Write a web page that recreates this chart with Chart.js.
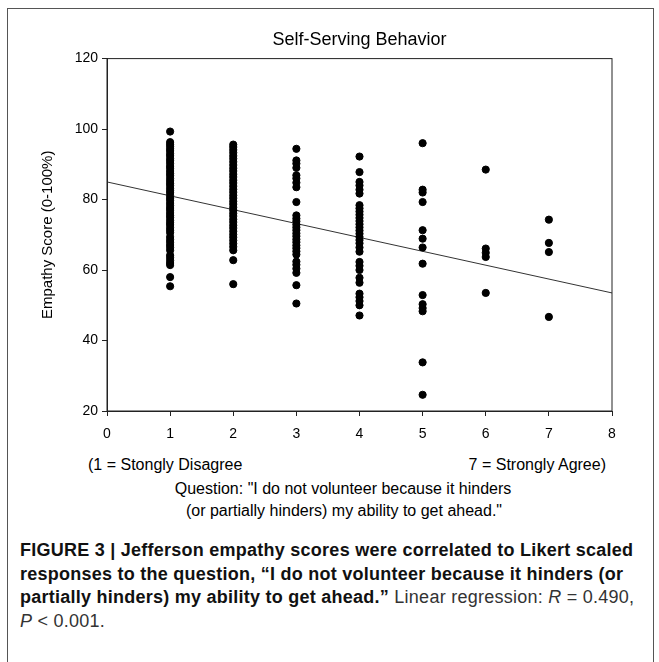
<!DOCTYPE html>
<html>
<head>
<meta charset="utf-8">
<script src="https://cdn.jsdelivr.net/npm/chart.js@4/dist/chart.umd.min.js"></script>
<style>
body { margin: 0; background: #fff; font-family: "Liberation Sans", Arial, sans-serif; }
#page { position: relative; width: 659px; height: 662px; overflow: hidden; }
#frame { position: absolute; left: 7px; top: 8px; width: 645px; height: 700px; border: 1px solid #555; }
#chart { position: absolute; left: 0; top: 0; }
.lbl { position: absolute; font-size: 16px; color: #000; white-space: nowrap; }
#caption { position: absolute; left: 20px; top: 539px; width: 640px; font-size: 18px; line-height: 23.5px;
    letter-spacing: 0.25px; color: #333; white-space: nowrap; }
#caption b { color: #111; }
</style>
</head>
<body>
<div id="page">
  <div id="frame"></div>
  <canvas id="chart" width="659" height="451"></canvas>
  <div class="lbl" style="left:88px; top:456px;">(1 = Stongly Disagree</div>
  <div class="lbl" style="left:300px; width:306px; text-align:right; top:456px;">7 = Strongly Agree)</div>
  <div class="lbl" style="left:0; width:686px; text-align:center; top:480px;">Question: "I do not volunteer because it hinders</div>
  <div class="lbl" style="left:0; width:688px; text-align:center; top:502px;">(or partially hinders) my ability to get ahead."</div>
  <div id="caption"><b>FIGURE 3 | Jefferson empathy scores were correlated to Likert scaled<br>responses to the question, “I do not volunteer because it hinders (or<br>partially hinders) my ability to get ahead.”</b> Linear regression: <i>R</i> = 0.490,<br><i>P</i> &lt; 0.001.</div>
</div>
<script>
// Likert response (x) and empathy scores
var likert = [1, 2, 3, 4, 5, 6, 7];
var scores1 = [99.3, 96.3, 95.7, 95.1, 94.4, 93.8, 93.0, 92.4, 91.6, 91.0, 90.3, 89.5, 88.9, 88.1, 87.4, 86.8,
    86.0, 85.3, 84.6, 84.0, 83.2, 82.5, 81.9, 81.1, 80.4, 79.8, 79.0, 78.3, 77.6, 77.0, 76.2, 75.5, 74.9,
    74.1, 73.4, 72.8, 72.0, 71.3, 70.6, 69.4, 68.6, 67.9, 67.1, 66.4, 65.6, 64.2, 63.5, 62.7, 62.0, 61.4,
    58.0, 55.4];
var scores2 = [95.6, 94.9, 94.1, 93.3, 92.4, 91.6, 90.7, 89.8, 88.9, 88.1, 87.2, 86.4, 85.5, 84.7, 83.8,
    82.9, 82.1, 81.2, 80.4, 79.5, 78.7, 77.8, 77.0, 76.1, 75.3, 74.4, 73.6, 72.7, 71.9, 71.0, 70.1, 69.3,
    68.4, 67.5, 66.6, 65.6, 62.8, 56.0];
var scores3 = [94.4, 91.1, 90.2, 89.0, 86.9, 86.0, 84.8, 83.5, 79.3, 75.5, 74.6, 73.8, 72.9, 72.1, 71.3,
    70.4, 69.6, 68.7, 67.9, 67.0, 66.2, 65.3, 64.4, 62.4, 61.5, 60.4, 59.2, 55.7, 50.5];
var scores4 = [92.2, 87.8, 85.0, 84.0, 82.8, 81.7, 78.4, 77.5, 76.6, 75.7, 74.8, 73.9, 73.0, 72.1, 71.2,
    70.3, 69.4, 68.5, 67.6, 66.4, 65.2, 62.3, 61.2, 60.0, 57.8, 56.4, 53.3, 52.3, 51.2, 50.0, 47.1];
var scores5 = [96.0, 82.8, 82.0, 79.3, 71.3, 68.9, 66.4, 61.8, 52.9, 50.3, 49.2, 48.3, 33.8, 24.6];
var scores6 = [88.5, 66.1, 64.9, 63.7, 53.5];
var scores7 = [74.3, 67.7, 65.1, 46.7];
var regX = [0, 8];
var regY = [85.0, 53.5];

var columns = [scores1, scores2, scores3, scores4, scores5, scores6, scores7];
var points = [];
for (var i = 0; i < likert.length; i++) {
    for (var j = 0; j < columns[i].length; j++) {
        points.push({x: likert[i], y: columns[i][j]});
    }
}
var regLine = [];
for (var k = 0; k < regX.length; k++) {
    regLine.push({x: regX[k], y: regY[k]});
}

var boxPlugin = {
    id: "box",
    afterDraw: function(chart) {
        var a = chart.chartArea, ctx = chart.ctx;
        ctx.save();
        ctx.strokeStyle = "#222";
        ctx.lineWidth = 1;
        ctx.strokeRect(a.left, a.top, a.right - a.left, a.bottom - a.top);
        ctx.restore();
    }
};

Chart.defaults.font.family = "'Liberation Sans', Arial, sans-serif";
Chart.defaults.color = "#000";

var config = {
    type: "scatter",
    data: {
        datasets: [{
            data: points,
            backgroundColor: "#000",
            borderColor: "#000",
            pointRadius: 3.6,
            pointHoverRadius: 3.6
        }, {
            type: "line",
            data: regLine,
            borderColor: "#333",
            borderWidth: 1,
            pointRadius: 0,
            fill: false
        }]
    },
    plugins: [boxPlugin],
    options: {
        responsive: false,
        animation: false,
        layout: { padding: { left: 0, right: 47, top: 0, bottom: 0 } },
        plugins: {
            legend: { display: false },
            tooltip: { enabled: false },
            title: {
                display: true,
                fullSize: false,
                text: "Self-Serving Behavior",
                font: { size: 18, weight: "normal" },
                color: "#000",
                padding: { top: 29, bottom: 8 }
            }
        },
        scales: {
            x: {
                type: "linear",
                min: 0,
                max: 8,
                ticks: { stepSize: 1, font: { size: 14 }, padding: 10 },
                grid: { drawOnChartArea: false, tickLength: 5, color: "#222" },
                border: { color: "#222" },
                afterFit: function(scale) { scale.height = 40; }
            },
            y: {
                min: 20,
                max: 120,
                ticks: { stepSize: 20, font: { size: 14 }, padding: 4 },
                grid: { drawOnChartArea: false, tickLength: 5, color: "#222" },
                border: { color: "#222" },
                title: {
                    display: true,
                    text: "Empathy Score (0-100%)",
                    font: { size: 15 },
                    padding: { top: 39, bottom: 0 }
                },
                afterFit: function(scale) { scale.width = 107; }
            }
        }
    }
};

var ctx = document.getElementById("chart").getContext("2d");
var oneChart = new Chart(ctx, config);
</script>
</body>
</html>
